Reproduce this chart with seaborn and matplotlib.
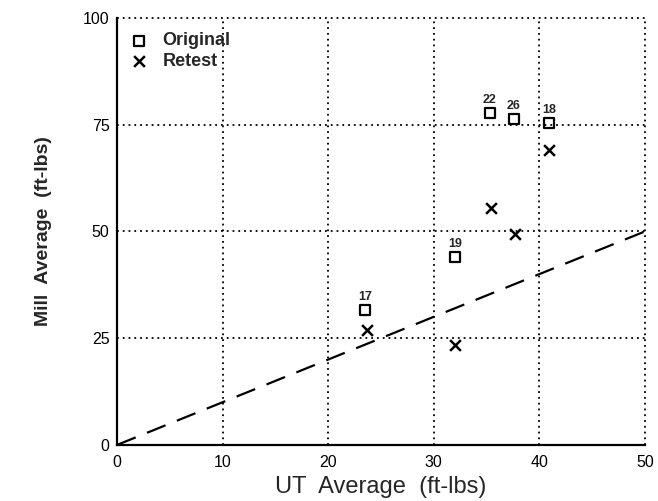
import matplotlib
matplotlib.use("Agg")
import matplotlib.pyplot as plt
import seaborn as sns
import pandas as pd

# Charpy impact averages per heat: UT lab vs. mill certificate
heat_ids = ["17", "19", "22", "26", "18"]
ut_original = [23.5, 32.0, 35.3, 37.6, 40.9]
mill_original = [31.6, 44.0, 77.8, 76.3, 75.5]
ut_retest = [23.7, 32.0, 35.4, 37.7, 40.9]
mill_retest = [26.9, 23.4, 55.5, 49.4, 69.1]

# 1:1 reference line
ref_x = [0, 50]
ref_y = [0, 50]

x_ticks = [0, 10, 20, 30, 40, 50]
y_ticks = [0, 25, 50, 75, 100]

orig = pd.DataFrame({"ut": ut_original, "mill": mill_original, "heat": heat_ids})
retest = pd.DataFrame({"ut": ut_retest, "mill": mill_retest, "heat": heat_ids})

sns.set_style("white")
plt.rcParams["font.family"] = ["Liberation Sans", "DejaVu Sans"]

fig = plt.figure(figsize=(6.58, 5.01), dpi=100)
ax = fig.add_axes([0.178, 0.112, 0.802, 0.852])

for x in x_ticks[1:]:
    ax.axvline(x, color="black", lw=1.3, ls=(0, (1, 2.2)), zorder=1, clip_on=False)
for y in y_ticks[1:]:
    ax.axhline(y, color="black", lw=1.3, ls=(0, (1, 2.2)), zorder=1, clip_on=False)

ax.plot(ref_x, ref_y, color="black", lw=1.6, dashes=(9, 5.5), zorder=2)

sns.scatterplot(data=orig, x="ut", y="mill", marker="s", s=50,
                facecolor="none", edgecolor="black", linewidth=1.6,
                label="Original", ax=ax, zorder=3)
sns.scatterplot(data=retest, x="ut", y="mill", marker="x", s=60,
                color="black", linewidth=1.8, label="Retest", ax=ax, zorder=3)

for _, row in orig.iterrows():
    ax.annotate(row["heat"], (row["ut"], row["mill"]), xytext=(0, 5),
                textcoords="offset points", ha="center", va="bottom",
                fontsize=9, fontweight="bold")

ax.set_xlim(0, 50)
ax.set_ylim(0, 100)
ax.set_xticks(x_ticks)
ax.set_yticks(y_ticks)
ax.tick_params(axis="both", direction="inout", length=9, width=1.2,
               labelsize=11.5, color="black", labelcolor="black")
ax.tick_params(axis="x", pad=3)
ax.tick_params(axis="y", pad=1)

for side in ["top", "right"]:
    ax.spines[side].set_visible(False)
for side in ["left", "bottom"]:
    ax.spines[side].set_color("black")
    ax.spines[side].set_linewidth(1.6)

ax.set_xlabel("UT  Average  (ft-lbs)", fontsize=17, labelpad=4)
ax.set_ylabel("Mill  Average  (ft-lbs)", fontsize=14, fontweight="bold", labelpad=22)

leg = ax.legend(loc="upper left", frameon=False, fontsize=13, handletextpad=0.9,
                borderaxespad=0.5, labelspacing=0.2, handlelength=0.8,
                borderpad=0.3)
for t in leg.get_texts():
    t.set_fontweight("bold")

fig.savefig("out.png", dpi=100)
